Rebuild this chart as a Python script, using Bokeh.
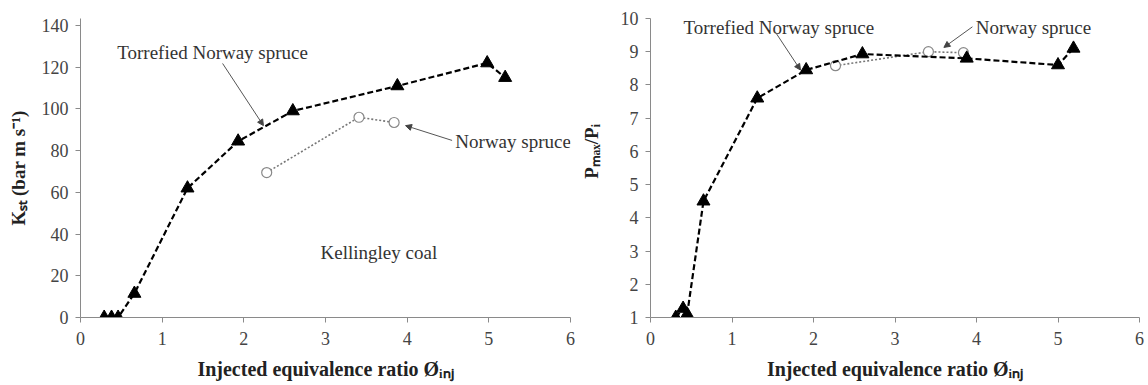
from bokeh.plotting import figure
from bokeh.layouts import row
from bokeh.models import Label, Arrow, NormalHead, Range1d, FixedTicker
from bokeh.embed import file_html
from bokeh.resources import INLINE

# ---------------- data ----------------
ks_torr_x = [0.29, 0.38, 0.46, 0.66, 1.31, 1.93, 2.60, 3.88, 4.98, 5.20]
ks_torr_y = [0, 0, 0, 11.5, 62, 84.5, 99, 111, 122, 115]
ks_nor_x = [2.28, 3.41, 3.84]
ks_nor_y = [69.5, 96, 93.5]

pr_torr_x = [0.31, 0.40, 0.45, 0.65, 1.31, 1.91, 2.60, 3.88, 5.00, 5.19]
pr_torr_y = [1.0, 1.27, 1.1, 4.5, 7.6, 8.45, 8.93, 8.8, 8.6, 9.1]
pr_nor_x = [2.27, 3.41, 3.84]
pr_nor_y = [8.58, 9.0, 8.97]

x_ticks = [0, 1, 2, 3, 4, 5, 6]
ks_ticks = [0, 20, 40, 60, 80, 100, 120, 140]
pr_ticks = [1, 2, 3, 4, 5, 6, 7, 8, 9, 10]

x_label = "Injected equivalence ratio Øᵢₙⱼ"
ks_label = "Kₛₜ (bar m s⁻¹)"
pr_label = "\u00a0" * 7 + "Pₘₐₓ/Pᵢ"

FONT = "Liberation Serif"
AXIS_COL = "#8a8a8a"
TXT_COL = "#222222"


def make_fig(w, yr, yticks, bl, br, bb, ylab, ystand):
    p = figure(output_backend="svg", toolbar_location=None,
               width=w, height=385,
               x_range=Range1d(0, 6), y_range=Range1d(*yr),
               min_border_left=bl, min_border_right=br,
               min_border_top=18, min_border_bottom=bb,
               background_fill_color="white", border_fill_color="white")
    p.outline_line_color = None
    p.grid.visible = False
    for ax in (p.xaxis[0], p.yaxis[0]):
        ax.axis_line_color = AXIS_COL
        ax.major_tick_line_color = AXIS_COL
        ax.major_tick_in = 0
        ax.major_tick_out = 5
        ax.minor_tick_line_color = None
        ax.major_label_text_font = FONT
        ax.major_label_text_font_size = "18px"
        ax.major_label_text_color = "#444444"
        ax.axis_label_text_font = FONT
        ax.axis_label_text_font_style = "bold"
        ax.axis_label_text_color = TXT_COL
    p.xaxis.axis_label_text_font_size = "20px"
    p.yaxis.axis_label_text_font_size = "19px"
    p.xaxis.ticker = FixedTicker(ticks=x_ticks)
    p.yaxis.ticker = FixedTicker(ticks=yticks)
    p.xaxis.major_label_standoff = 9
    p.yaxis.major_label_standoff = 7
    p.xaxis.axis_label = x_label
    p.xaxis.axis_label_standoff = 10
    p.yaxis.axis_label = ylab
    p.yaxis.axis_label_standoff = ystand
    return p


def add_series(p, tx, ty, nx, ny):
    p.line(nx, ny, line_color="#777777", line_width=1.6, line_dash="2 2")
    p.scatter(nx, ny, marker="circle", size=10, fill_color="white",
              line_color="#888888", line_width=1.2)
    p.line(tx, ty, line_color="black", line_width=2.2, line_dash="6 3")
    p.scatter(tx, ty, marker="triangle", size=13, fill_color="black", line_color="black")


def note(p, text, x, y):
    p.add_layout(Label(x=x, y=y, text=text, text_font=FONT, text_font_size="19px",
                       text_color="#333333", text_align="left",
                       text_baseline="alphabetic"))


def arrow(p, xs, ys, xe, ye):
    p.add_layout(Arrow(end=NormalHead(size=6, fill_color="#444444", line_color="#444444"),
                       x_start=xs, y_start=ys, x_end=xe, y_end=ye,
                       line_color="#555555", line_width=1))


# ---------------- left: K_St ----------------
# frame: top 18 px, bottom 317 px -> 299 px tall; 140 sits at 25 px
p1 = make_fig(575, (0, 140 * 299 / 292), ks_ticks, 80, 5, 68, ks_label, 10)
add_series(p1, ks_torr_x, ks_torr_y, ks_nor_x, ks_nor_y)
note(p1, "Torrefied Norway spruce", 0.45, 127)
arrow(p1, 1.74, 121.8, 2.24, 92)
note(p1, "Norway spruce", 4.59, 84.5)
arrow(p1, 4.55, 84.9, 3.98, 92)
note(p1, "Kellingley  coal", 2.94, 31)

# ---------------- right: Pmax/Pi ----------------
p2 = make_fig(573, (1, 10), pr_ticks, 75, 9, 66, pr_label, 16)
add_series(p2, pr_torr_x, pr_torr_y, pr_nor_x, pr_nor_y)
note(p2, "Torrefied Norway spruce", 0.405, 9.72)
arrow(p2, 1.53, 9.6, 1.84, 8.45)
note(p2, "Norway spruce", 3.99, 9.72)
arrow(p2, 3.95, 9.75, 3.6, 9.13)

layout = row(p1, p2)
open("out.html", "w").write(file_html(layout, INLINE))
